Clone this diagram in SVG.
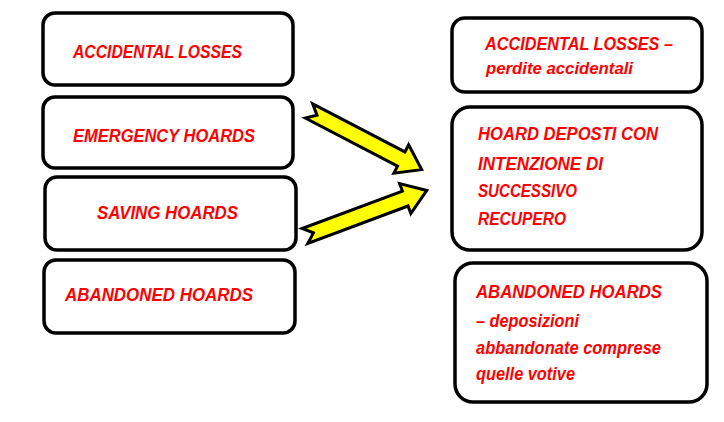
<svg xmlns="http://www.w3.org/2000/svg" width="724" height="422" viewBox="0 0 724 422">
<defs>
<style>
.box{fill:#fff;stroke:#000;stroke-width:3.5}
.t{font-family:"Liberation Sans",Arial,sans-serif;font-weight:bold;font-style:italic;font-size:18px;fill:#ff0000}
.arr{fill:#ffff00;stroke:#000;stroke-width:3;stroke-linejoin:miter}
</style>
</defs>
<rect width="724" height="422" fill="#fff"/>
<g id="n1"><rect class="box" x="43" y="13" width="250" height="72" rx="12"/>
<text class="t" x="73" y="58" textLength="169" lengthAdjust="spacingAndGlyphs">ACCIDENTAL LOSSES</text></g>
<g id="n2"><rect class="box" x="43" y="97" width="250" height="71" rx="12"/>
<text class="t" x="73" y="142" textLength="182" lengthAdjust="spacingAndGlyphs">EMERGENCY HOARDS</text></g>
<g id="n3"><rect class="box" x="45" y="177" width="251" height="73" rx="12"/>
<text class="t" x="97" y="219" textLength="141" lengthAdjust="spacingAndGlyphs">SAVING HOARDS</text></g>
<g id="n4"><rect class="box" x="44" y="260" width="251" height="73" rx="12"/>
<text class="t" x="65" y="301" textLength="188" lengthAdjust="spacingAndGlyphs">ABANDONED HOARDS</text></g>
<g id="r1"><rect class="box" x="452" y="18" width="250" height="74" rx="13"/>
<text class="t" x="485" y="50" textLength="188" lengthAdjust="spacingAndGlyphs">ACCIDENTAL LOSSES –</text>
<text class="t" x="486" y="74" textLength="147" lengthAdjust="spacingAndGlyphs" style="font-size:16px">perdite accidentali</text></g>
<g id="r2"><rect class="box" x="452" y="107" width="250" height="143" rx="18"/>
<text class="t" x="478" y="140" textLength="180" lengthAdjust="spacingAndGlyphs">HOARD DEPOSTI CON</text>
<text class="t" x="478" y="170" textLength="125" lengthAdjust="spacingAndGlyphs">INTENZIONE DI</text>
<text class="t" x="478" y="197" textLength="99" lengthAdjust="spacingAndGlyphs">SUCCESSIVO</text>
<text class="t" x="478" y="225" textLength="88" lengthAdjust="spacingAndGlyphs">RECUPERO</text></g>
<g id="r3"><rect class="box" x="455" y="263" width="252" height="139" rx="18"/>
<text class="t" x="476" y="298" textLength="186" lengthAdjust="spacingAndGlyphs">ABANDONED HOARDS</text>
<text class="t" x="476" y="327" textLength="103" lengthAdjust="spacingAndGlyphs">– deposizioni</text>
<text class="t" x="476" y="354" textLength="185" lengthAdjust="spacingAndGlyphs">abbandonate comprese</text>
<text class="t" x="476" y="380" textLength="99" lengthAdjust="spacingAndGlyphs">quelle votive</text></g>
<g id="connectors">
<polygon class="arr" transform="translate(309,111) rotate(27.5)" points="0,-8 104,-8 104,-16 127,0 104,16 104,8 0,8 9,0"/>
<polygon class="arr" transform="translate(305,236) rotate(-20.5)" points="0,-8 107,-8 107,-16 130,0 107,16 107,8 0,8 9,0"/>
</g>
</svg>
